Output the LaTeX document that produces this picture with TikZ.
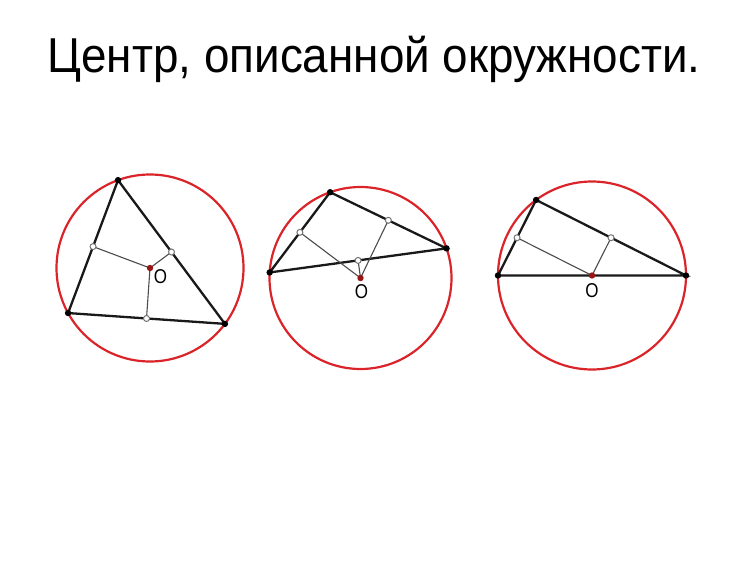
\documentclass[tikz,border=0pt]{standalone}
\usepackage{fontspec}
\setmainfont{Liberation Sans}
\usetikzlibrary{calc}
\definecolor{circred}{RGB}{218,36,42}
\definecolor{ctrred}{RGB}{150,22,22}
\tikzset{
	side/.style={line width=2.3pt, black!90},
	perp/.style={line width=1.1pt, black!70},
	circ/.style={line width=2.2pt, circred},
	vert/.style={fill=black},
	mid/.style={fill=white, draw=black!55, line width=1pt},
	ctr/.style={fill=ctrred},
	olabel/.style={inner sep=0pt, font=\fontsize{20}{20}\selectfont}
}
\begin{document}
\begin{tikzpicture}[x=1pt,y=1pt]
			\useasboundingbox (0,0) rectangle (750,-562);
			\node[anchor=base, font=\fontsize{49}{58}\selectfont] (T) at (374,-72.7) {\scalebox{0.935}[1]{Центр, описанной окружности.}};
			
			%First circle
			\def\r{93.5}
			\coordinate (O1) at (150,-268);
			\draw[circ] (O1) circle (\r);
			\coordinate (A1) at ([shift={(110:\r)}]O1);
			\coordinate (B1) at ([shift={(208.8:\r)}]O1);
			\coordinate (C1) at ([shift={(323.3:\r)}]O1);
			\coordinate (M1a) at ($(A1)!0.5!(B1)$);
			\coordinate (M1b) at ($(B1)!0.5!(C1)$);
			\coordinate (M1c) at ($(C1)!0.5!(A1)$);
			\draw[side] (A1) -- (B1) -- (C1) -- cycle;
			\draw[perp] (O1) -- (M1a);
			\draw[perp] (O1) -- (M1b);
			\draw[perp] (O1) -- (M1c);
			\fill[vert] (A1) circle (3.2);
			\fill[vert] (B1) circle (3.2);
			\fill[vert] (C1) circle (3.2);
			\filldraw[mid] (M1a) circle (3);
			\filldraw[mid] (M1b) circle (3);
			\filldraw[mid] (M1c) circle (3);
			\fill[ctr] (O1) circle (3.2);
			\node[olabel] (L1) at ([shift={(10.5,-9)}]O1) {\scalebox{0.85}[1]{O}};
			
			%Second circle
			\def\r{91}
			\coordinate (O2) at (360.5,-278);
			\draw[circ] (O2) circle (\r);
			\coordinate (A2) at ([shift={(109.5:\r)}]O2);
			\coordinate (B2) at ([shift={(176.5:\r)}]O2);
			\coordinate (C2) at ([shift={(19:\r)}]O2);
			\coordinate (M2a) at ($(A2)!0.5!(B2)$);
			\coordinate (M2b) at ($(B2)!0.5!(C2)$);
			\coordinate (M2c) at ($(C2)!0.5!(A2)$);
			\draw[side] (A2) -- (B2) -- (C2) -- cycle;
			\draw[perp] (O2) -- (M2a);
			\draw[perp] (O2) -- (M2b);
			\draw[perp] (O2) -- (M2c);
			\fill[vert] (A2) circle (3.2);
			\fill[vert] (B2) circle (3.2);
			\fill[vert] (C2) circle (3.2);
			\filldraw[mid] (M2a) circle (3);
			\filldraw[mid] (M2b) circle (3);
			\filldraw[mid] (M2c) circle (3);
			\fill[ctr] (O2) circle (3.2);
			\node[olabel] (L2) at ([shift={(1,-14)}]O2) {\scalebox{0.85}[1]{O}};
			
			%Third circle
			\def\r{94}
			\coordinate (O3) at (592,-275.5);
			\draw[circ] (O3) circle (\r);
			\coordinate (A3) at ([shift={(180:\r)}]O3);
			\coordinate (B3) at ([shift={(0:\r)}]O3);
			\coordinate (C3) at ([shift={(126.5:\r)}]O3);
			\coordinate (M3a) at ($(A3)!0.5!(C3)$);
			\coordinate (M3b) at ($(C3)!0.5!(B3)$);
			\draw[side] (A3) -- (B3) -- (C3) -- cycle;
			\draw[perp] (O3) -- (M3a);
			\draw[perp] (O3) -- (M3b);
			\fill[vert] (A3) circle (3.2);
			\fill[vert] (B3) circle (3.2);
			\fill[vert] (C3) circle (3.2);
			\filldraw[mid] (M3a) circle (3);
			\filldraw[mid] (M3b) circle (3);
			\fill[ctr] (O3) circle (3.2);
			\node[olabel] (L3) at ([shift={(0,-15.5)}]O3) {\scalebox{0.85}[1]{O}};
\end{tikzpicture}
\end{document}
